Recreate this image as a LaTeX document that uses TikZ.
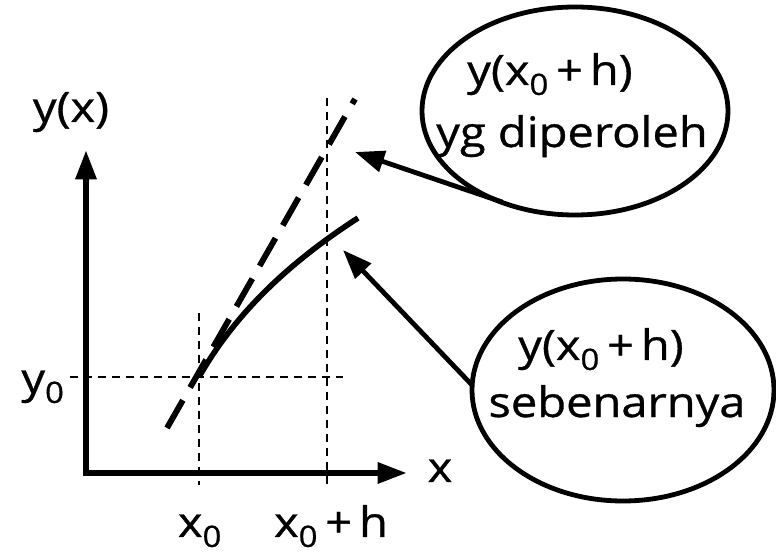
\documentclass[tikz,border=0pt]{standalone}
\usepackage{fontspec}
\setmainfont{Open Sans}[FakeStretch=1.12,FakeBold=0.8]
\usetikzlibrary{arrows.meta,shapes.geometric}
\newcommand{\lbl}[1]{\fontsize{31.5}{34}\selectfont #1}
\newcommand{\zr}{\textsubscript{0}}
\tikzset{
  axis/.style={line width=4.6pt,-{Triangle[length=22pt,width=15pt]}},
  guide/.style={line width=1.9pt,dash pattern=on 6pt off 4.5pt},
  tangent/.style={line width=4.4pt,dash pattern=on 24pt off 11pt},
  curve/.style={line width=4.2pt},
  pointer/.style={line width=3.6pt,-{Triangle[length=22pt,width=16pt]}},
  bubble/.style={draw,ellipse,line width=3.6pt,inner sep=0pt},
  txt/.style={anchor=base,inner sep=0pt,font=\lbl}
}
\begin{document}
\begin{tikzpicture}[x=0.75pt,y=-0.75pt]
\useasboundingbox (0,0) rectangle (776,556);
% axes
\coordinate (Ytip) at (86,150);
\coordinate (Xtip) at (407,473);
\coordinate (O1) at (83,473);
\coordinate (O2) at (86,476);
\draw[axis] (O2) -- (Ytip);
\draw[axis] (O1) -- (Xtip);
% guides
\coordinate (h1) at (70,377); \coordinate (h2) at (343,377);
\coordinate (v1a) at (199,313); \coordinate (v1b) at (199,485);
\coordinate (v2a) at (327,98); \coordinate (v2b) at (327,485);
\draw[guide] (h1) -- (h2);
\draw[guide] (v1a) -- (v1b);
\draw[guide] (v2a) -- (v2b);
% tangent and curve
\coordinate (P) at (199,377);
\coordinate (T1) at (167,428);
\coordinate (T2) at (355,99);
\coordinate (C2) at (358,218);
\draw[tangent] (T1) -- (T2);
\draw[curve] (P) .. controls (236,312) and (290,262) .. (C2);
% bubbles
\node[bubble,minimum width=306*0.75pt,minimum height=208*0.75pt] (b1) at (575,111) {};
\node[bubble,minimum width=302*0.75pt,minimum height=222*0.75pt] (b2) at (623,390) {};
\node[txt] (t1a) at (550,85) {y(x\zr\,+\,h)};
\node[txt] (t1b) at (572,147) {yg diperoleh};
\node[txt] (t2a) at (601,360) {y(x\zr\,+\,h)};
\node[txt] (t2b) at (617,417) {sebenarnya};
% pointers
\coordinate (a1s) at (502,202); \coordinate (a1e) at (355,152);
\coordinate (a2s) at (472,385); \coordinate (a2e) at (343,250);
\draw[pointer] (a1s) -- (a1e);
\draw[pointer] (a2s) -- (a2e);
% labels
\node[txt] (ly) at (71,122) {y(x)};
\node[txt] (ly0) at (43,393) {y\zr};
\node[txt] (lx) at (440,482) {x};
\node[txt] (lx0) at (200,537) {x\zr};
\node[txt] (lxh) at (331,537) {x\zr\,+\,h};
\end{tikzpicture}
\end{document}
